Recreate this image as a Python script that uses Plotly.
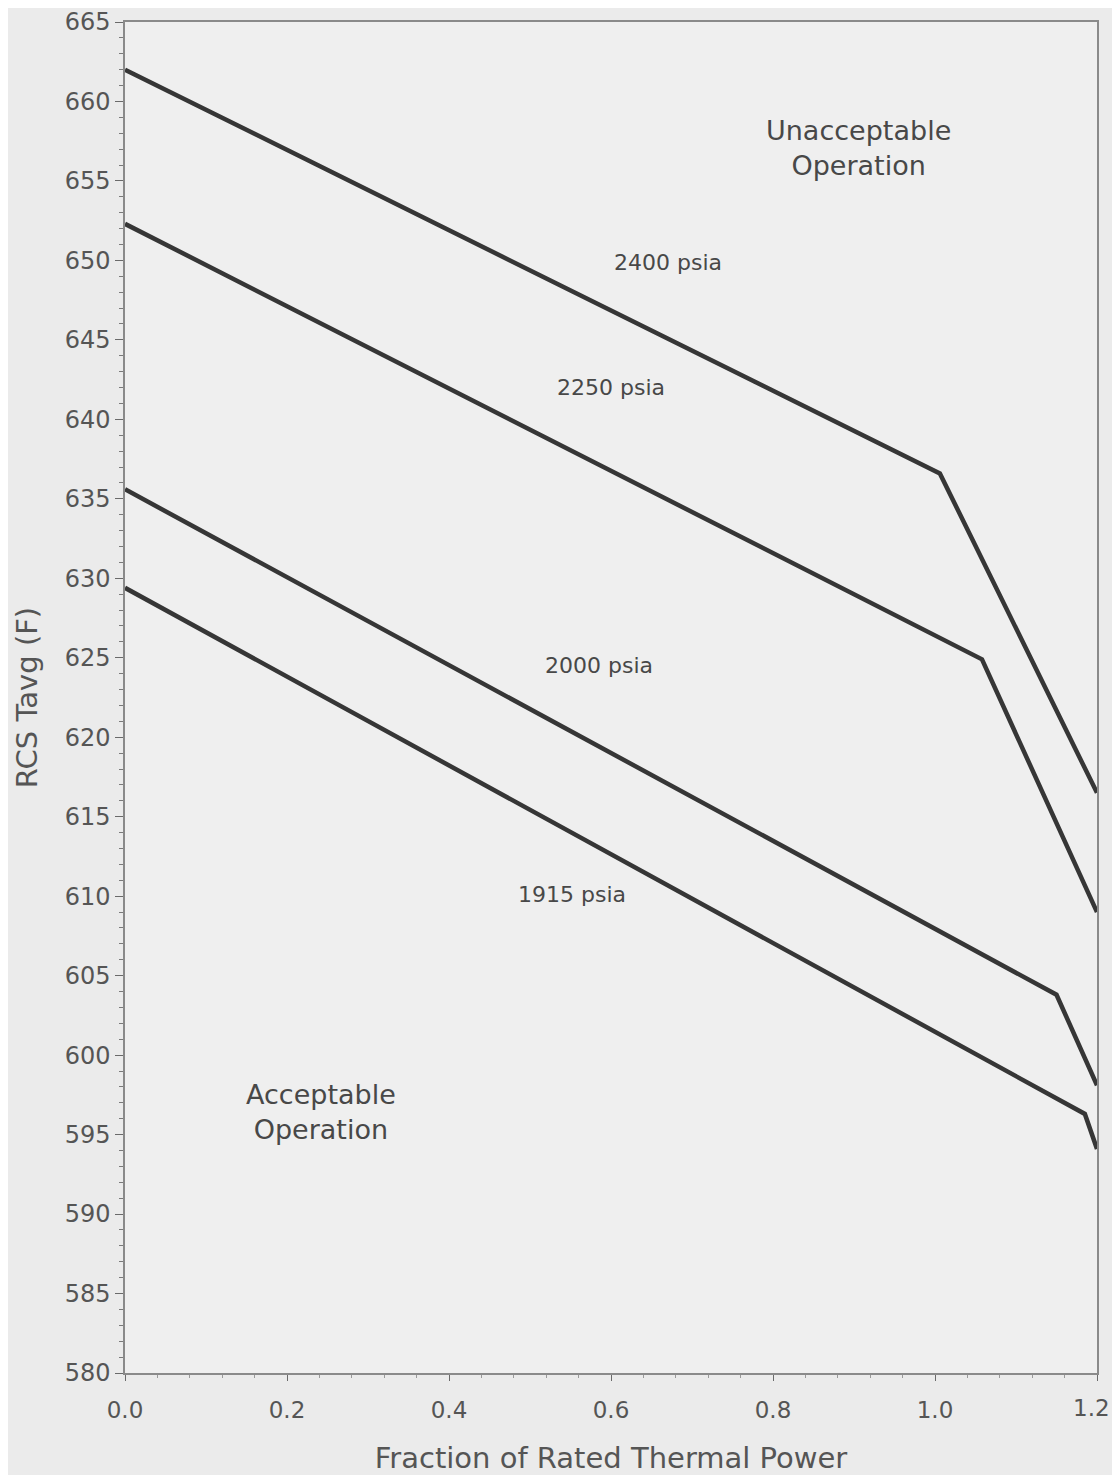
import plotly.graph_objects as go

# Data
power_2400 = [0.0, 1.006, 1.2]
tavg_2400 = [662.0, 636.6, 616.5]
power_2250 = [0.0, 1.058, 1.2]
tavg_2250 = [652.3, 624.9, 609.0]
power_2000 = [0.0, 1.15, 1.2]
tavg_2000 = [635.6, 603.8, 598.1]
power_1915 = [0.0, 1.185, 1.2]
tavg_1915 = [629.4, 596.3, 594.1]

x_tickvals = [0.0, 0.2, 0.4, 0.6, 0.8, 1.0, 1.2]
x_ticktext = ["0.0", "0.2", "0.4", "0.6", "0.8", "1.0", "1.2"]

series = [
    ("2400 psia", power_2400, tavg_2400),
    ("2250 psia", power_2250, tavg_2250),
    ("2000 psia", power_2000, tavg_2000),
    ("1915 psia", power_1915, tavg_1915),
]

labels = ["Unacceptable<br>Operation", "2400 psia", "2250 psia", "2000 psia", "1915 psia", "Acceptable<br>Operation"]
label_x = [0.905, 0.67, 0.60, 0.585, 0.552, 0.242]
label_y = [657.1, 649.9, 642.0, 624.5, 610.1, 596.4]
label_size = [27, 22, 22, 22, 22, 27]

FONT = "DejaVu Sans, Liberation Sans, Arial"
TICKFONT = dict(family=FONT, size=23, color="#555555")

fig = go.Figure()
for name, x, y in series:
    fig.add_trace(go.Scatter(x=x, y=y, mode="lines", name=name,
                             line=dict(color="#363636", width=4.5),
                             showlegend=False))

for t, x, y, s in zip(labels, label_x, label_y, label_size):
    fig.add_annotation(x=x, y=y, text=t, showarrow=False,
                       font=dict(family=FONT, size=s, color="#484848"))

# last x tick label sits at the right edge of the page; draw it right-anchored so it stays visible
shown_text = x_ticktext[:-1] + [""]
fig.add_annotation(x=1, xref="paper", y=0, yref="paper", text=x_ticktext[-1],
                   showarrow=False, xanchor="right", yanchor="top", xshift=15, yshift=-20,
                   font=TICKFONT)

axis_common = dict(showline=True, linecolor="#8a8a8a", linewidth=1.5, mirror=True,
                   showgrid=False, zeroline=False, ticks="outside", tickcolor="#6a6a6a",
                   ticklabeloverflow="allow", automargin=False)

fig.update_xaxes(range=[0, 1.2], tickvals=x_tickvals, ticktext=shown_text, ticklen=6,
                 ticklabelstandoff=10,
                 tickfont=TICKFONT,
                 minor=dict(dtick=0.04, ticks="outside", ticklen=3, tickcolor="#9a9a9a"),
                 title=dict(text="Fraction of Rated Thermal Power",
                            font=dict(family=FONT, size=29, color="#555555"),
                            standoff=55),
                 **axis_common)
fig.update_yaxes(range=[580, 665], dtick=5, tick0=580, ticklen=8,
                 tickfont=dict(family=FONT, size=24, color="#555555"),
                 minor=dict(dtick=1, ticks="outside", ticklen=4, tickcolor="#7a7a7a"),
                 title=dict(text="RCS Tavg (F)",
                            font=dict(family=FONT, size=29, color="#555555"),
                            standoff=18),
                 **axis_common)

fig.update_layout(width=1104, height=1467,
                  margin=dict(l=117, r=15, t=14, b=102),
                  paper_bgcolor="#ebebeb", plot_bgcolor="#efefef")

fig.write_html("out.html", config=dict(displayModeBar=False))
